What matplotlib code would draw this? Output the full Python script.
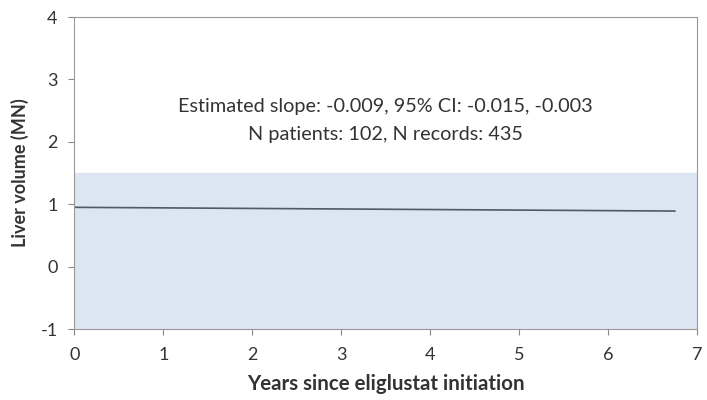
import numpy as np
from matplotlib import pyplot as plt

# data
years = [0, 6.75]
liver_volume = [0.95, 0.89]
band_low, band_high = -1, 1.5
x_ticks = [0, 1, 2, 3, 4, 5, 6, 7]
y_ticks = [-1, 0, 1, 2, 3, 4]
note_lines = ["Estimated slope: -0.009, 95% CI: -0.015, -0.003",
              "N patients: 102, N records: 435"]

plt.rcParams['font.family'] = ['Lato', 'DejaVu Sans']
plt.rcParams['axes.unicode_minus'] = False

fig = plt.figure(figsize=(7.07, 4), dpi=100)
ax = fig.add_axes([0.105, 0.1775, 0.881, 0.78])

# normal range band
ax.axhspan(band_low, band_high, color='#dce6f2', zorder=0)
ax.plot(years, liver_volume, color='#4f5a66', linewidth=1.2)

ax.text(3.5, 2.57, note_lines[0], ha='center', va='center', fontsize=14.3, color='#333333')
ax.text(3.5, 2.12, note_lines[1], ha='center', va='center', fontsize=14.3, color='#333333')

ax.set_xlim(0, 7)
ax.set_ylim(-1, 4)
ax.set_xticks(x_ticks)
ax.set_yticks(y_ticks)
ax.tick_params(colors='#333333', labelsize=13, length=4, color='#888888')
ax.tick_params(axis='x', pad=9)
ax.tick_params(axis='y', pad=8)
for s in ax.spines.values():
    s.set_color('#999999')

ax.set_xlabel('Years since eliglustat initiation', fontsize=14.8, fontweight='bold', color='#333333', labelpad=8)
ax.set_ylabel('Liver volume (MN)', fontsize=13, fontweight='bold', color='#333333', labelpad=8)

plt.savefig('out.png', dpi=100)
